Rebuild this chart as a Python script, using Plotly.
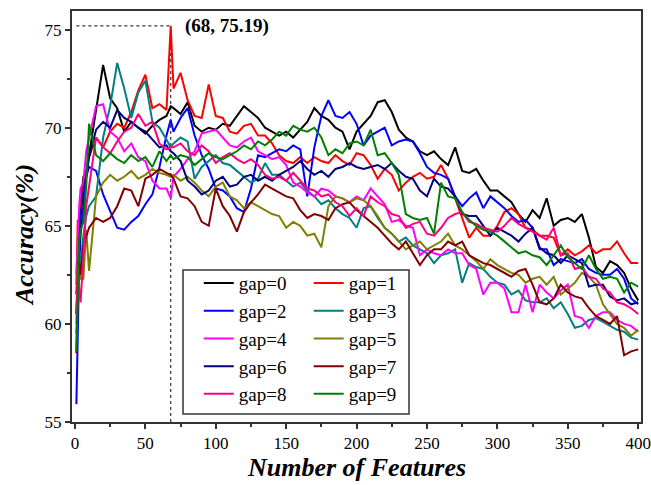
import plotly.graph_objects as go

# Number of features (sample positions)
features = [1, 2, 3, 4, 6, 8, 10,
            15, 20, 25, 30, 35, 40, 45, 50, 55, 60, 65, 68] + list(range(70, 401, 5))

gap0 = [61.5, 63.2, 64.8, 66.0, 67.5, 67.8, 68.6, 71.0, 73.2, 71.5, 71.0, 69.8, 70.3, 70.0, 69.7, 70.1, 70.4, 70.6, 71.1,
        71.0, 70.7, 71.3, 70.1, 69.8, 70.0, 69.9, 70.2, 70.1, 70.6, 71.1, 70.8, 70.5, 70.0, 69.8, 69.6, 69.8, 69.5, 69.9, 70.3,
        71.0, 70.6, 70.4, 70.0, 69.8, 68.9, 69.8, 70.2, 70.6, 71.3, 71.4, 70.8, 69.9, 69.5,
        69.3, 68.8, 68.6, 68.8, 68.4, 68.1, 69.0, 67.8, 67.7, 67.9, 67.3, 66.8, 66.8, 66.5, 66.2, 65.6, 65.2, 65.8, 65.4, 66.4,
        65.0, 65.3, 65.4, 65.2, 65.6, 64.4, 62.9, 62.6, 63.2, 63.0, 62.6, 61.8, 61.2]
gap1 = [62.0, 65.3, 64.5, 66.3, 67.0, 67.8, 68.5, 69.5, 69.0, 69.8, 70.2, 70.0, 70.8, 71.9, 72.7, 71.0, 71.2, 70.9, 75.19,
        72.0, 72.8, 71.4, 70.6, 70.5, 72.2, 70.6, 70.5, 69.8, 69.7, 70.1, 70.2, 69.6, 69.6, 69.2, 68.6, 68.3, 68.2, 68.5, 68.2,
        68.5, 68.3, 68.2, 68.6, 68.3, 68.1, 68.7, 68.6, 68.1, 67.4, 67.9, 67.6, 66.8, 67.2,
        67.5, 67.7, 67.4, 67.5, 68.1, 67.4, 66.4, 65.4, 64.4, 64.9, 64.5, 64.5, 65.0, 65.7, 65.9, 65.6, 64.9, 64.8, 64.5, 64.5,
        64.4, 63.5, 63.8, 63.5, 63.7, 64.0, 63.6, 63.8, 63.8, 64.2, 63.6, 63.1, 63.1]
gap2 = [55.9, 60.0, 63.0, 64.5, 66.2, 67.5, 68.0, 67.8, 66.6, 65.7, 64.9, 64.8, 65.2, 65.5, 66.1, 66.6, 68.0, 69.6, 70.4,
        69.8, 70.5, 71.0, 69.6, 68.6, 67.9, 66.9, 66.8, 66.5, 65.9, 65.7, 66.9, 68.6, 68.5, 68.7, 68.9, 68.8, 69.1, 68.9, 66.5,
        69.0, 70.6, 71.4, 70.6, 70.5, 70.8, 70.2, 69.1, 69.6, 69.8, 70.0, 69.1, 69.3, 69.4,
        69.3, 68.7, 68.0, 67.7, 67.6, 67.4, 66.5, 66.0, 66.4, 66.7, 65.9, 66.5, 66.2, 65.9, 65.5, 65.2, 65.3, 64.9, 63.8, 63.8,
        63.0, 63.3, 63.2, 63.1, 63.3, 62.8, 62.6, 62.5, 62.5, 62.8, 62.3, 61.3, 61.0]
gap3 = [59.5, 62.0, 63.5, 63.0, 64.5, 65.5, 66.0, 66.5, 69.5, 71.1, 73.3, 72.0, 70.5, 71.8, 72.4, 70.3, 70.0, 69.4, 69.0,
        69.2, 69.5, 69.3, 67.4, 68.0, 68.3, 68.6, 68.2, 68.1, 67.8, 67.5, 67.2, 67.4, 68.2, 67.6, 67.6, 67.3, 67.0, 67.2, 66.8,
        66.5, 66.1, 66.3, 65.9, 65.6, 65.4, 64.9, 65.9, 66.0, 65.4, 64.9, 64.6, 64.2, 64.4,
        64.0, 63.8, 63.6, 63.1, 63.5, 63.6, 63.8, 62.1, 63.1, 62.9, 62.8, 62.4, 62.1, 62.0, 61.5, 61.7, 61.2, 61.1, 61.1, 61.3,
        60.8, 61.1, 60.5, 59.8, 59.9, 60.2, 60.3, 60.1, 59.9, 59.7, 59.6, 59.3, 59.2]
gap4 = [62.5, 64.5, 66.0, 66.9, 67.2, 68.8, 69.5, 71.1, 71.2, 69.8, 69.5, 68.8, 69.2, 68.5, 68.3, 67.3, 66.9, 66.9, 66.4,
        67.5, 67.9, 68.4, 68.8, 69.7, 69.8, 69.9, 69.5, 69.1, 69.0, 69.3, 69.5, 68.8, 68.6, 68.4, 68.5, 68.1, 67.2, 67.0, 66.7,
        66.5, 66.9, 66.8, 66.5, 66.4, 66.2, 66.5, 66.3, 66.9, 66.5, 66.1, 65.2, 65.3, 65.0,
        64.9, 63.5, 63.8, 63.6, 63.5, 63.8, 63.6, 63.6, 63.0, 62.8, 61.5, 62.1, 62.1, 61.8, 60.6, 60.6, 62.0, 60.6, 62.0, 61.6,
        61.3, 61.7, 62.0, 60.4, 60.3, 59.8, 60.4, 60.6, 60.6, 60.2, 60.0, 59.9, 59.6]
gap5 = [60.0, 63.5, 62.8, 62.3, 62.3, 64.8, 62.7, 66.5, 67.2, 67.6, 67.3, 67.5, 67.8, 67.4, 67.6, 67.9, 67.7, 67.6, 67.5,
        67.6, 67.3, 67.5, 67.2, 66.8, 66.5, 67.0, 67.2, 66.5, 66.3, 65.9, 66.2, 66.0, 65.8, 65.6, 65.5, 64.9, 65.2, 65.0, 64.5,
        64.6, 63.9, 66.0, 66.5, 66.4, 66.2, 66.4, 66.3, 66.0, 65.5, 64.9, 64.6, 64.2, 63.8,
        64.0, 64.2, 63.8, 64.0, 64.2, 64.6, 64.0, 63.8, 63.5, 63.2, 62.8, 63.3, 63.0, 62.8, 62.6, 62.5, 62.1, 62.3, 62.4, 62.0,
        62.4, 61.5, 61.8, 62.1, 62.6, 62.4, 62.0, 61.0, 60.5, 60.0, 59.8, 59.4, 59.7]
gap6 = [60.5, 62.5, 64.0, 65.5, 66.8, 67.5, 68.5, 69.9, 70.3, 70.0, 70.9, 70.5, 70.3, 70.0, 69.8, 69.4, 69.0, 69.1, 68.8,
        68.7, 68.3, 67.3, 67.0, 66.6, 66.8, 67.3, 67.5, 67.0, 67.1, 67.5, 67.6, 67.3, 67.5, 67.3, 67.6, 67.8, 68.0, 68.3, 67.9,
        67.6, 67.8, 67.5, 67.9, 68.0, 68.2, 68.0, 67.9, 68.0, 68.1, 67.9, 68.2, 67.8, 67.5,
        67.4, 66.8, 66.5, 67.4, 67.0, 66.9, 66.5, 65.6, 65.5, 65.5, 65.0, 64.5, 64.9, 64.7, 64.5, 64.2, 64.6, 64.9, 63.9, 63.6,
        63.5, 63.1, 63.5, 63.3, 63.1, 61.9, 62.0, 62.0, 61.4, 61.2, 61.3, 61.0, 61.1]
gap7 = [58.5, 62.0, 63.1, 62.5, 64.0, 64.5, 64.9, 65.4, 65.2, 65.4, 66.0, 66.9, 66.8, 66.0, 67.4, 67.6, 67.9, 67.7, 67.6,
        67.4, 66.5, 66.4, 66.0, 65.2, 65.0, 66.9, 66.0, 65.5, 64.7, 65.7, 66.2, 66.6, 67.1, 66.9, 66.7, 66.5, 66.4, 65.8, 65.4,
        65.6, 65.5, 65.3, 65.9, 66.1, 66.2, 65.8, 65.5, 65.2, 64.9, 64.5, 64.1, 63.8, 64.2,
        63.6, 63.0, 63.5, 63.8, 63.8, 64.2, 64.0, 64.2, 63.5, 63.3, 63.1, 63.0, 62.8, 62.6, 62.4, 62.7, 62.8, 62.0, 61.1, 61.0,
        61.3, 62.0, 61.6, 61.4, 61.3, 60.8, 60.4, 60.2, 60.0, 60.4, 58.4, 58.6, 58.7]
gap8 = [60.5, 63.0, 61.8, 61.1, 63.5, 66.0, 67.0, 69.5, 69.0, 68.7, 69.3, 69.8, 70.0, 70.7, 70.1, 70.3, 69.2, 68.9, 69.0,
        69.0, 69.2, 68.8, 68.6, 69.1, 68.8, 68.2, 68.5, 68.7, 68.4, 68.2, 68.4, 68.1, 67.6, 67.4, 67.5, 67.3, 67.7, 67.3, 66.9,
        66.8, 66.5, 66.6, 66.2, 66.0, 65.5, 65.9, 65.5, 66.5, 66.2, 66.0, 65.6, 65.5, 64.9,
        65.1, 65.2, 64.6, 64.5, 64.9, 65.4, 65.6, 65.7, 65.2, 65.1, 64.9, 64.8, 64.7, 65.0, 65.4, 65.1, 64.9, 64.7, 64.5, 64.3,
        64.9, 63.5, 63.6, 62.8, 62.9, 62.4, 62.3, 61.8, 61.6, 61.1, 61.0, 60.8, 60.5]
gap9 = [58.6, 61.0, 64.2, 64.8, 65.2, 67.0, 70.2, 68.6, 68.3, 68.7, 68.4, 68.2, 68.6, 68.3, 68.5, 68.0, 68.8, 68.3, 68.6,
        68.4, 68.6, 68.5, 68.1, 68.4, 68.7, 68.5, 68.4, 68.6, 68.8, 69.1, 68.9, 69.3, 69.1, 69.4, 69.8, 69.6, 70.1, 69.9, 69.8,
        70.0, 69.5, 68.6, 68.9, 68.7, 69.2, 69.3, 69.1, 69.9, 68.6, 68.7, 68.2, 67.6, 65.6,
        65.4, 65.3, 65.4, 64.6, 67.2, 66.5, 66.4, 65.7, 65.3, 65.0, 64.8, 64.7, 64.5, 64.2, 63.9, 63.6, 63.7, 63.5, 63.4, 63.0,
        63.5, 64.0, 63.4, 63.1, 62.8, 63.5, 62.8, 62.3, 62.4, 62.3, 61.6, 62.1, 61.9]

series = [gap0, gap1, gap2, gap3, gap4, gap5, gap6, gap7, gap8, gap9]
names = ["gap=%d" % i for i in range(10)]
colors = ["#000000", "#FF0000", "#0000FF", "#008080", "#FF00FF",
          "#808000", "#000080", "#800000", "#FF0080", "#008000"]

x_ticks = [0, 50, 100, 150, 200, 250, 300, 350, 400]
y_ticks = [55, 60, 65, 70, 75]

FONT = "Liberation Serif"

fig = go.Figure()
for i, (ys, nm, col) in enumerate(zip(series, names, colors)):
    fig.add_trace(go.Scatter(
        x=features, y=ys, mode="lines", name=nm,
        line=dict(color=col, width=2),
        legend="legend" if i % 2 == 0 else "legend2",
    ))

# peak annotation derived from the gap=1 series
pk = max(range(len(gap1)), key=lambda k: gap1[k])
px, py = features[pk], gap1[pk]
fig.add_shape(type="line", x0=features[0], x1=px, y0=py, y1=py,
              line=dict(color="#333333", width=1.2, dash="dot"), layer="below")
fig.add_shape(type="line", x0=px, x1=px, y0=55, y1=py,
              line=dict(color="#333333", width=1.2, dash="dot"), layer="below")
fig.add_annotation(x=px + 9, y=py, text="(%d, %.2f)" % (px, py), showarrow=False,
                   xanchor="left", yanchor="middle",
                   font=dict(family=FONT, size=19, color="black", weight="bold"))

# axis titles
title_font = dict(family=FONT, size=26, color="black", weight="bold", style="italic")
fig.add_annotation(x=0.5, y=-0.1095, xref="paper", yref="paper", text="Number of Features",
                   showarrow=False, xanchor="center", yanchor="middle", font=title_font)
fig.add_annotation(x=-0.0826, y=0.455, xref="paper", yref="paper", text="Accuracy(%)",
                   showarrow=False, xanchor="center", yanchor="middle", textangle=-90, font=title_font)

# legend frame
fig.add_shape(type="rect", xref="paper", yref="paper",
              x0=0.1951, x1=0.5923, y0=0.0195, y1=0.3698,
              fillcolor="white", line=dict(color="#333333", width=1.5), layer="above")

leg_common = dict(bgcolor="rgba(0,0,0,0)", borderwidth=0,
                  font=dict(family=FONT, size=19, color="black"),
                  xanchor="left", yanchor="top", tracegroupgap=0)
fig.update_layout(
    width=651, height=485,
    margin=dict(l=72, r=10, t=11, b=63, autoexpand=False),
    paper_bgcolor="white", plot_bgcolor="white",
    font=dict(family=FONT, color="black"),
    showlegend=True,
    legend=dict(x=0.2228, y=0.384, **leg_common),
    legend2=dict(x=0.416, y=0.384, **leg_common),
    xaxis=dict(range=[-2.1, 402.0], tickvals=x_ticks, ticks="outside", ticklen=5, tickwidth=1.5,
               tickcolor="#333333", showline=True, linecolor="#333333", linewidth=2, mirror=True,
               showgrid=False, zeroline=False, automargin=False,
               minor=dict(dtick=25, tick0=0, ticks="outside", ticklen=3, tickwidth=1.5, tickcolor="#333333"),
               tickfont=dict(family=FONT, size=17, color="black")),
    yaxis=dict(range=[55, 75.95], tickvals=y_ticks, ticks="outside", ticklen=5, tickwidth=1.5,
               tickcolor="#333333", showline=True, linecolor="#333333", linewidth=2, mirror=True,
               showgrid=False, zeroline=False, automargin=False,
               minor=dict(dtick=2.5, tick0=55, ticks="outside", ticklen=3, tickwidth=1.5, tickcolor="#333333"),
               tickfont=dict(family=FONT, size=17, color="black")),
)

fig.write_html("out.html", config={"displayModeBar": False},
               post_script="document.body.style.margin='0';document.body.style.overflow='hidden';")
